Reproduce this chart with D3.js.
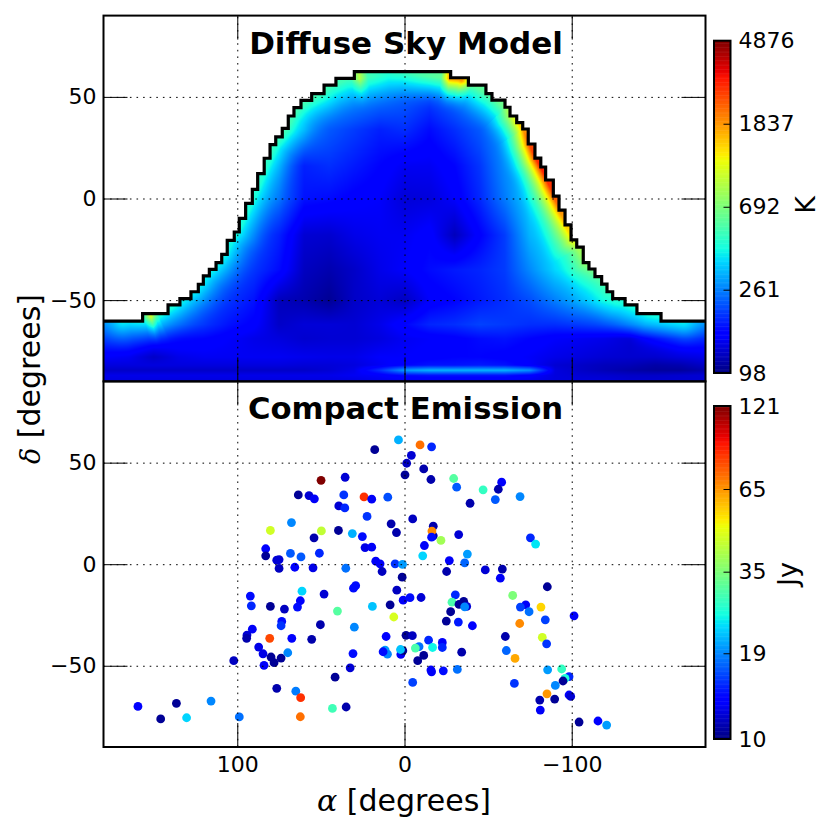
<!DOCTYPE html>
<html>
<head>
<meta charset="utf-8">
<script src="https://d3js.org/d3.v7.min.js"></script>
<style>
    body{ margin:0; background:#fff; }
    text{ font-family:"DejaVu Sans"; fill:#000; }
    .tick text{ font-size:22px; }
    .grid line{ stroke:#000; stroke-width:1; stroke-dasharray:1.6,5; }
    .grid path, .ticksOnly path{ display:none; }
    .ticksOnly line{ stroke:#000; stroke-width:1; }
    .title{ font-size:31px; font-weight:bold; text-anchor:middle; }
    .label{ font-size:30px; text-anchor:middle; }
    .unit{ font-size:27px; text-anchor:middle; }
    .spine{ fill:none; stroke:#000; stroke-width:2; }
</style>
</head>
<body>
<svg id="chart" width="830" height="830"></svg>
<script>
// ticks
const raTicks = [100, 0, -100];
const decTicks = [50, 0, -50];
const skyTicks = [98, 261, 692, 1837, 4876];
const jyTicks = [10, 19, 35, 65, 121];

// diffuse sky, K (columns skyRa, one row per entry of skyDec)
const skyRa = d3.range(180, -181, -15);
const skyDec = [60, 48, 34, 16, 0, -18, -35, -50, -62, -69, -78, -82, -84.5, -87, -90];
const sky60 = [340,340,340,340,340,340,340,340,340,340,340,330,310,300,320,350,350,350,350,350,350,350,350,350,350];
const sky48 = [320,320,320,320,320,320,320,310,300,300,270,245,225,200,240,300,350,350,350,350,350,350,350,350,350];
const sky34 = [280,280,280,280,280,280,280,280,280,225,200,180,190,165,190,225,290,360,360,360,360,360,360,360,360];
const sky16 = [260,260,260,260,260,260,260,250,180,190,175,160,145,145,160,195,275,350,370,370,370,370,370,370,370];
const sky0 = [260,260,260,260,260,260,260,240,170,165,155,150,132,134,150,185,255,360,400,400,400,400,400,400,400];
const skyM18 = [250,250,250,250,250,250,225,180,130,128,140,145,145,157,120,157,200,320,400,400,400,400,400,400,400];
const skyM35 = [250,250,250,250,250,225,195,165,122,115,125,140,150,165,175,183,200,270,360,400,400,400,400,400,400];
const skyM50 = [280,280,280,260,220,195,170,120,115,105,125,132,122,150,160,175,190,214,260,320,360,360,360,360,360];
const skyM62 = [250,240,230,215,195,170,155,125,132,132,130,140,160,183,190,205,198,190,190,200,214,230,240,255,260];
const skyM69 = [195,190,175,165,160,150,140,135,128,130,130,135,145,150,155,165,170,160,150,145,140,130,150,165,180];
const skyM78 = [150,145,125,140,145,145,145,145,142,140,140,150,150,155,160,160,155,148,140,135,130,128,128,135,140];
const skyM82 = [135,135,135,135,135,135,135,135,132,132,135,145,160,170,170,175,170,150,130,125,120,118,112,115,125];
const skyM845 = [125,125,125,125,125,125,125,125,125,130,140,190,290,320,320,320,320,280,135,125,118,112,108,108,115];
const skyM87 = [140,140,140,140,140,140,140,140,140,140,145,150,165,170,170,170,170,155,135,130,128,125,125,128,130];
const skyM90 = [135,135,135,135,135,135,135,135,135,135,135,140,140,140,140,140,140,140,135,135,135,130,130,130,130];
const skyRows = [sky60, sky48, sky34, sky16, sky0, skyM18, skyM35, skyM50, skyM62, skyM69, skyM78, skyM82, skyM845, skyM87, skyM90];

// stepped edge of the observed sky: each level starts at its horizonRa
const horizonRa = [180,156.6,141.4,134.3,127.7,123.3,120.3,116.7,112.7,109.3,106,101.8,98.8,95,91,87.8,83.9,80.4,77,73.1,69.5,66.1,61.9,55.5,48.1,41,30,
    -27.6,-38.2,-48.7,-52.3,-60.1,-63.1,-67.1,-70.7,-74,-78,-81.5,-84.4,-89,-92.4,-96,-99.6,-103,-106.9,-110.3,-113.9,-117.9,-121.1,-124.5,-131.9,-139,-153.4,-180];
const horizonDec = [-59.8,-56.2,-51.9,-48.8,-45.4,-41.7,-37.6,-34.4,-31.1,-27,-20.1,-16,-9.3,-1.9,5,12.7,20.3,27,30.8,35,41.1,45.2,48.8,52.1,56.3,59.6,62.9,
    59.9,56.3,52.1,48.9,45.4,41.1,37.8,34.7,27.3,20.4,16,9.6,1.7,-5.2,-12.5,-19.9,-23.4,-31.1,-34.2,-38,-41.6,-45.4,-48.8,-51.9,-56.2,-59.8,-59.8];

// brightness right at that edge, K
const rimRa = [180,165,156,152,148,130,110,90,70,50,32,27,22,10,-10,-22,-27,-35,-41,-52,-60,-70,-76,-83,-88,-94,-100,-106,-117,-132,-150,-180];
const rimK = [380,400,500,1050,480,380,400,450,520,520,520,900,520,450,550,600,1800,1800,620,560,650,1400,2500,3000,2800,2000,1300,800,550,430,420,380];

// compact sources: alpha, delta, flux (same order in all three)
const srcRa = [
    3.6,17.8,49.9,35.5,63.5,57.1,53.9,36.3,24.2,19.6,
    10,39.3,35.7,22.4,67.6,80.2,49.7,39.5,8,4.8,
    31.2,25.2,54.1,83,83,68.2,61.9,50.9,23.6,19.6,
    75,76.4,75,65.6,54.7,17.2,14.6,13.4,35.1,5.6,
    1.2,1.4,29.2,30.5,4.6,92.2,61.3,48.1,62.3,91.6,
    80.2,71.8,64,40.1,19.2,8.6,0.8,6.4,73.4,73.8,
    50.3,30,91,94.2,94.4,80.6,67.4,55.5,11,-0.9,
    87.2,84.6,79.8,73.8,78,69.8,84,102.1,30.8,32.5,
    11.6,10.2,12.8,2.2,1,2.4,41.5,76.4,65,62.1,
    159.4,136.4,115.7,145.8,130.3,98.8,62.3,43.1,34.9,
    -4.1,-1.3,-0.3,-4.9,-3.3,-9.9,-4.7,-9.3,-16.2,-11.5,
    -15.8,-29.4,-31.2,-47,-58.1,-56.1,-39.2,-54.3,-69.1,-17.2,
    -17.2,-16.4,-16.2,-32.4,-21.8,-11.9,-75.3,-78.4,-10.9,-37.6,
    -26.8,-36,-25.2,-48.3,-58.5,-57.3,-85.4,-64.7,-30.4,-72.5,
    -69.3,-74.5,-81.6,-28.4,-35.4,-32.6,-37.2,-36,-27.6,-25,
    -32.2,-40.6,-84.2,-101.4,-68.9,-60.3,-82.4,-85,-14.4,-22.6,
    -22.6,-8.7,-6.5,-16.8,-34.2,-60.9,-11.5,-7.9,-66.1,-15.8,
    -16.2,-23.2,-31.6,-85.6,-94,-98.4,-96,-94.8,-90.2,-85.2,
    -89.8,-80.9,-98.4,-99.4,-81.2,-65.7,-4.9,-104.4,-115.7,-120.9];
const srcDec = [
    61.2,56.4,41.3,42.8,34.1,33.8,32.2,34.1,33.1,32,
    33,28.7,27.7,23.5,20.5,16.6,16.4,16.6,19.9,15.6,
    15.1,13.6,13,7.6,4.1,5.3,3.6,5.4,8.2,8.4,
    2.3,2,-2.1,-1.5,-1.8,1.5,0.2,-3.6,-2,0.2,
    -0.1,-6.4,-10.6,-11.8,-12.8,-15.7,-13.3,-14.7,-18,-20.5,
    -20.8,-22.1,-21.1,-23.1,-20.8,-20,-17.7,-26,-28.2,-30.3,
    -29.8,-31,-32,-34.9,-36.5,-36.5,-36.5,-37,-35.6,-35,
    -40.8,-44.1,-45.7,-46.2,-48.5,-43.6,-49.8,-47.5,-44,-51,
    -42.3,-44.3,-43.1,-44.4,-42.6,-42,-55.6,-61.1,-62.5,-65.7,
    -70,-68.5,-67.4,-76.2,-75.6,-75.2,-75.1,-71,-70.3,
    53.6,49.7,44,22.3,-16.5,-16.4,-35.2,58.7,57.8,46.9,
    41.7,42.2,37.9,36.6,40.4,36.9,30,31.8,33.3,18.7,
    14,16.3,13.3,14.6,11.7,9.2,13,9.9,4.1,5,
    1.8,0.7,-3.6,-2.8,-2.4,-6.9,-11.1,-15.4,-15.1,-20,
    -21.1,-23.4,-21.1,-18.7,-18.3,-19.8,-20.8,-21,-23.4,-28,
    -28.5,-30.3,-27.4,-25.4,-29.2,-35.6,-36,-39.2,-37.4,-38.5,
    -41,-40.6,-41.3,-41,-43.3,-42.5,-44.9,-47.5,-46.4,-52.1,
    -53,-52.5,-51.8,-52,-51.6,-55.4,-56.2,-57.5,-59.7,-63.8,
    -66.4,-66.9,-64.4,-65.1,-71.8,-58.7,-58.2,-77.7,-77.2,-79.2];
const srcJy = [
    21,10.5,121,12,10.5,12,13,15.5,85,13,
    16.5,12,15,15.5,19,45,43,10.5,11,11,
    21,14,11,13.5,10.5,17,17,15,12.5,13,
    12,12,11.5,13.5,12.5,13,13,11.5,18,15.5,
    20,10.5,14,14,11.5,14,23,12,13.5,15,
    10.5,11.5,14,31,22,10.5,13,46,14,15.5,
    11,19,13,12,11,80,13.5,11,13.5,10.5,
    12.5,12.5,10.5,10.5,10.5,19,13,11.5,14,12,
    20,19,14,13,10.5,22,10.5,11,18.5,85,
    13.5,10.5,19,10.5,23,18,72,29,11,
    12,11.5,10.5,11.5,14,12,11.5,72,15,11,
    11,31,17,28,13.5,11,11,17,19,11,
    11,67,14,12,39,13,15,24,23,20,
    13,17.5,11,12,11,13,10.5,35,15,13,
    16,18,55,30,10.5,10.5,12,19,10.5,10.5,
    14.5,13.5,16,13,67,11,45,15.5,15,13,
    15,18,30,25,11,17.5,10.5,10.5,62,13,
    13,14,18,20,28,15,26,10.5,19,65,
    10.5,11,13.5,12,13,15.5,16,10.5,13.5,20];

// matplotlib jet, one channel per scale
const jetR = d3.scaleLinear().domain([0,.35,.66,.89,1]).range([0,0,255,255,128]).clamp(true);
const jetG = d3.scaleLinear().domain([0,.125,.375,.64,.91,1]).range([0,0,255,255,0,0]).clamp(true);
const jetB = d3.scaleLinear().domain([0,.11,.34,.65,1]).range([128,255,255,0,0]).clamp(true);
const jet = t => `rgb(${jetR(t)|0},${jetG(t)|0},${jetB(t)|0})`;

const left = 103.5, right = 705.5;
const x = d3.scaleLinear().domain([180, -180]).range([left, right]);
const yTop = d3.scaleLinear().domain([90, -90]).range([15.6, 381.4]);
const yBot = d3.scaleLinear().domain([90, -90]).range([381.4, 747]);

const skyColor = d3.scaleLog().domain([98, 4876]).range([0, 1]).clamp(true);
const jyColor = d3.scaleLog().domain([10, 121]).range([0, 1]).clamp(true);

const svg = d3.select('#chart');

function drawAxes(y){
    let w = right - left, h = y.range()[1] - y.range()[0];
    // grid
    svg.append('g').attr('class','grid').attr('transform',`translate(${left},0)`)
        .call(d3.axisLeft(y).tickValues(decTicks).tickSize(-w).tickFormat(''));
    svg.append('g').attr('class','grid').attr('transform',`translate(0,${y.range()[1]})`)
        .call(d3.axisBottom(x).tickValues(raTicks).tickSize(-h).tickFormat(''));
    // ticks on all four sides, pointing in
    svg.append('g').attr('class','ticksOnly').attr('transform',`translate(${left},0)`)
        .call(d3.axisLeft(y).tickValues(decTicks).tickSizeInner(-24).tickSizeOuter(0).tickPadding(7));
    svg.append('g').attr('class','ticksOnly').attr('transform',`translate(${right},0)`)
        .call(d3.axisRight(y).tickValues(decTicks).tickSizeInner(-24).tickSizeOuter(0).tickFormat(''));
    svg.append('g').attr('class','ticksOnly').attr('transform',`translate(0,${y.range()[0]})`)
        .call(d3.axisTop(x).tickValues(raTicks).tickSizeInner(-24).tickSizeOuter(0).tickFormat(''));
    svg.append('g').attr('class','ticksOnly').attr('transform',`translate(0,${y.range()[1]})`)
        .call(d3.axisBottom(x).tickValues(raTicks).tickSizeInner(-24).tickSizeOuter(0).tickFormat(''));
}

function interp(arr, v){
    // arr is descending; returns index and fraction
    let i = 0;
    while(i < arr.length - 2 && v < arr[i+1]) i++;
    let f = (arr[i] - v) / (arr[i] - arr[i+1]);
    return [i, Math.max(0, Math.min(1, f))];
}

// level of the stepped edge at a given alpha
function horizonAt(ra){
    let i = 0;
    while(i < horizonRa.length - 2 && ra <= horizonRa[i+1]) i++;
    return horizonDec[i];
}

function drawSky(){
    let x0 = Math.floor(left), y0 = Math.floor(yTop(90));
    let W = Math.ceil(right - x0), H = Math.ceil(yTop(-90) - y0);
    let canvas = document.createElement('canvas');
    canvas.width = W; canvas.height = H;
    let ctx = canvas.getContext('2d');
    let img = ctx.createImageData(W, H);

    // smooth line through the middle of each step, in pixels
    let mids = horizonDec.slice(0, -1).map((d, i) => [x((horizonRa[i] + horizonRa[i+1]) / 2), yTop(d)]);

    for(let py = 0; py < H; py++){
        let dec = yTop.invert(py + y0 + .5);
        let [ri, rf] = interp(skyDec, dec);
        for(let px = 0; px < W; px++){
            let ra = x.invert(px + x0 + .5);
            if(dec > horizonAt(ra)) continue;
            let [ci, cf] = interp(skyRa, ra);
            let a = Math.log(skyRows[ri][ci]), b = Math.log(skyRows[ri][ci+1]);
            let c = Math.log(skyRows[ri+1][ci]), d = Math.log(skyRows[ri+1][ci+1]);
            let val = (a*(1-cf) + b*cf)*(1-rf) + (c*(1-cf) + d*cf)*rf;

            // nearest point on the edge line
            let best = 1e9, bestRa = ra, qx = px + x0 + .5, qy = py + y0 + .5;
            for(let s = 0; s < mids.length - 1; s++){
                let [ax, ay] = mids[s], [bx, by] = mids[s+1];
                let dx = bx-ax, dy = by-ay;
                let u = Math.max(0, Math.min(1, ((qx-ax)*dx + (qy-ay)*dy) / (dx*dx + dy*dy)));
                let ex = ax + u*dx - qx, ey = ay + u*dy - qy, dd = ex*ex + ey*ey;
                if(dd < best){ best = dd; bestRa = x.invert(ax + u*dx); }
            }
            let dist = Math.max(0, Math.sqrt(best) - 3);
            if(dist < 36){
                let [k, kf] = interp(rimRa, bestRa);
                let rim = Math.log(rimK[k])*(1-kf) + Math.log(rimK[k+1])*kf;
                if(rim > val) val += (rim - val) * Math.pow(1 - dist/36, 2.4);
            }
            let t = skyColor(Math.exp(val)), o = (py*W + px)*4;
            img.data[o] = jetR(t); img.data[o+1] = jetG(t); img.data[o+2] = jetB(t); img.data[o+3] = 255;
        }
    }
    ctx.putImageData(img, 0, 0);
    svg.append('image').attr('x', x0).attr('y', y0).attr('width', W).attr('height', H)
        .attr('href', canvas.toDataURL());

    // dark stepped rim along the edge
    let edge = d3.line().x(d => x(d[0])).y(d => yTop(d[1])).curve(d3.curveStepAfter);
    let pts = horizonRa.map((r, i) => [r, horizonDec[i]]);
    let defs = svg.append('defs');
    defs.append('filter').attr('id','soft').append('feGaussianBlur').attr('stdDeviation', .55);
    svg.append('path')
        .attr('d', edge(pts)).attr('fill','none').attr('stroke','#000').attr('stroke-width',3.2)
        .attr('transform','translate(0,1)')
        .attr('filter','url(#soft)');
}

function drawSources(){
    svg.append('g').selectAll('circle')
        .data(srcRa.map((r, i) => i))
        .enter().append('circle')
        .attr('cx', i => x(srcRa[i]))
        .attr('cy', i => yBot(srcDec[i]))
        .attr('r', 4.4)
        .attr('fill', i => jet(jyColor(srcJy[i])));
}

function drawColorbar(y0, y1, color, ticks, unit, unitX, unitY){
    let bx = 714, bw = 16.5;
    let cy = d3.scaleLog().domain(color.domain()).range([y1, y0]);
    let t = d3.scaleLinear().domain([0, 256]).range([y1, y0]);
    svg.append('g').selectAll('rect').data(d3.range(256)).enter().append('rect')
        .attr('x', bx).attr('width', bw)
        .attr('y', d => t(d + 1)).attr('height', d => t(d) - t(d + 1) + .5)
        .attr('fill', d => jet((d + .5) / 256));
    let a = svg.append('g').attr('class','ticksOnly').attr('transform',`translate(${bx+bw},0)`)
        .call(d3.axisRight(cy).tickValues(ticks).tickFormat(d3.format('d')).tickSizeOuter(0).tickSizeInner(0).tickPadding(8));
    a.selectAll('.tick').filter((d, i) => i > 0 && i < ticks.length - 1).append('line')
        .attr('x1', -7).attr('x2', 0);
    svg.append('rect').attr('class','spine').attr('x', bx).attr('y', y0).attr('width', bw).attr('height', y1 - y0);
    svg.append('text').attr('class','unit')
        .attr('transform',`translate(${unitX},${unitY}) rotate(-90)`).text(unit);
}

drawSky();
drawAxes(yTop);
drawSources();
drawAxes(yBot);

[yTop, yBot].forEach(y => {
    svg.append('rect').attr('class','spine').attr('x', left).attr('y', y.range()[0])
        .attr('width', right - left).attr('height', y.range()[1] - y.range()[0]);
});

// x labels on the lower panel
svg.append('g').attr('class','ticksOnly').attr('transform',`translate(0,${yBot(-90)})`)
    .call(d3.axisBottom(x).tickValues(raTicks).tickSize(0).tickPadding(9));

svg.append('text').attr('class','title').attr('x', 406).attr('y', 54).text('Diffuse Sky Model');
svg.append('text').attr('class','title').attr('x', 405.5).attr('y', 418.5).style('font-size','30.7px').text('Compact Emission');

drawColorbar(40.7, 373, skyColor, skyTicks, 'K', 815, 205);
drawColorbar(406, 739, jyColor, jyTicks, 'Jy', 797, 574);

let xLab = svg.append('text').attr('class','label').attr('x', 404).attr('y', 811);
xLab.append('tspan').attr('font-style','italic').attr('font-family','DejaVu Serif').text('α');
xLab.append('tspan').text(' [degrees]');
let yLab = svg.append('text').attr('class','label').attr('transform','translate(40,379) rotate(-90)');
yLab.append('tspan').attr('font-style','italic').attr('font-family','DejaVu Serif').attr('font-size',27).text('δ');
yLab.append('tspan').text(' [degrees]');
</script>
</body>
</html>
